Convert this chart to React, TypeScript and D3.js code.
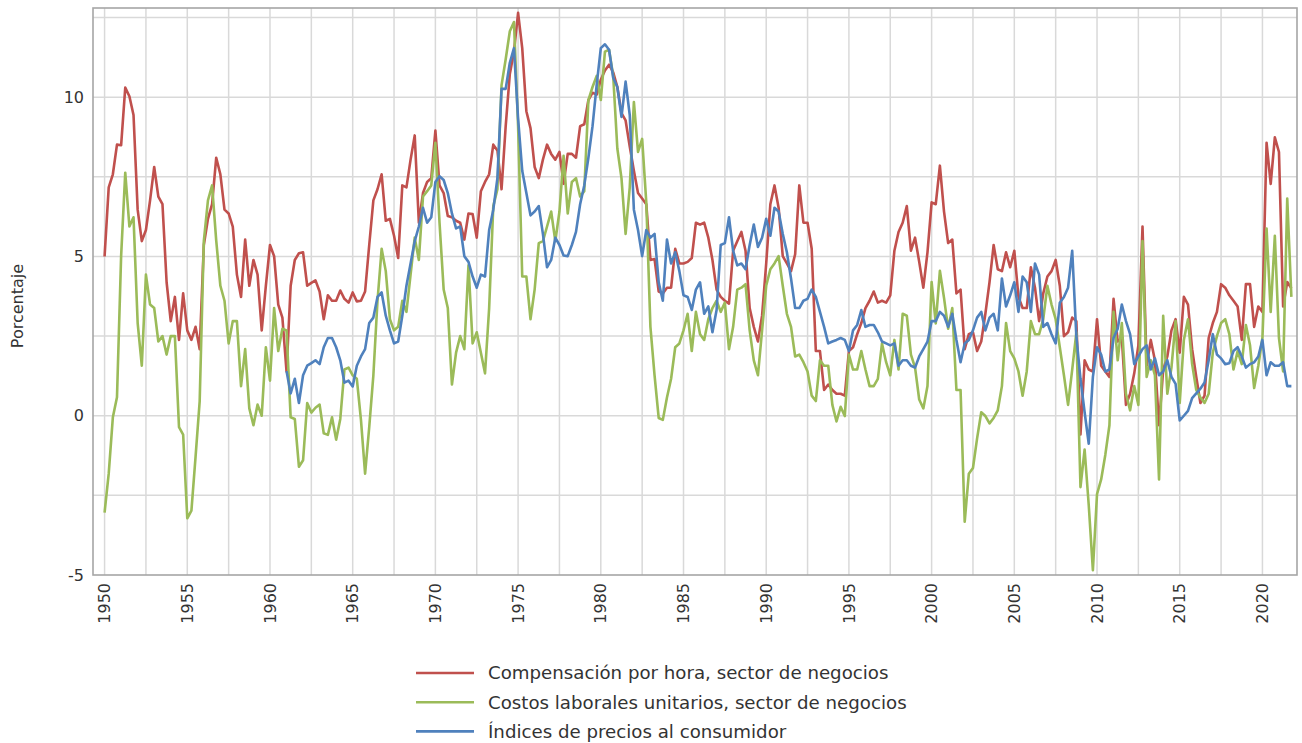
import React from "react";
import * as d3 from "d3";

// Quarterly data, first value = Q1 of the start year
const START_YEAR = 1950;
const CPI_START_YEAR = 1961;

const compensation = [
  5.0, 7.17, 7.58, 8.51, 8.49, 10.3, 10.03, 9.44, 6.47, 5.48, 5.83, 6.76, 7.81, 6.88, 6.64, 4.19,
  2.97, 3.73, 2.38, 3.84, 2.68, 2.38, 2.79, 2.09, 5.36, 6.18, 6.64, 8.1, 7.58, 6.47, 6.35, 5.94,
  4.43, 3.73, 5.53, 4.08, 4.89, 4.43, 2.68, 4.08, 5.36, 5.01, 3.49, 3.08, 1.39, 4.08, 4.89, 5.1,
  5.13, 4.08, 4.17, 4.25, 3.9, 3.03, 3.78, 3.61, 3.61, 3.93, 3.67, 3.55, 3.87, 3.59, 3.61, 3.9,
  5.36, 6.76, 7.11, 7.58, 6.12, 6.18, 5.65, 4.95, 7.23, 7.17, 8.04, 8.8, 6.06, 6.99, 7.34, 7.46,
  8.95, 7.23, 6.99, 6.27, 6.23, 6.12, 6.06, 5.53, 6.35, 6.33, 5.59, 7.05, 7.34, 7.58, 8.51, 8.33,
  7.11, 9.09, 10.73, 11.43, 12.65, 11.54, 9.56, 9.03, 7.81, 7.46, 8.04, 8.51, 8.22, 8.04, 8.28, 7.28,
  8.22, 8.22, 8.1, 9.09, 9.15, 9.91, 10.14, 10.08, 10.55, 10.84, 11.02, 10.78, 10.32, 9.5, 9.27, 8.45,
  7.69, 6.99, 6.82, 6.64, 4.89, 4.92, 3.9, 3.84, 4.02, 4.02, 5.24, 4.78, 4.78, 4.83, 4.95, 6.06,
  6.0, 6.06, 5.59, 4.89, 3.96, 3.73, 3.61, 3.52, 5.18, 5.48, 5.77, 5.18, 3.38, 2.79, 2.33, 3.14,
  4.78, 6.64, 7.23, 6.53, 5.01, 4.78, 4.54, 5.07, 7.23, 6.06, 6.06, 5.24, 2.03, 2.03, 0.81, 0.98,
  0.81, 0.69, 0.69, 0.63, 2.03, 2.15, 2.56, 2.91, 3.38, 3.61, 3.9, 3.55, 3.61, 3.55, 3.78, 5.18,
  5.77, 6.06, 6.58, 5.18, 5.59, 4.83, 4.02, 5.13, 6.7, 6.64, 7.85, 6.41, 5.42, 5.53, 3.84, 3.96,
  2.09, 2.56, 2.62, 2.03, 2.33, 3.2, 4.19, 5.36, 4.6, 4.54, 5.13, 4.66, 5.18, 3.73, 3.38, 3.38,
  4.66, 4.02, 2.97, 3.84, 4.37, 4.54, 4.89, 4.08, 2.5, 2.62, 3.08, 2.97, -0.59, 1.74, 1.45, 1.39,
  3.03, 1.57, 1.39, 1.22, 3.67, 2.33, 2.44, 0.34, 0.69, 1.33, 2.21, 5.94, 1.57, 2.38, 1.74, -0.3,
  1.45, 1.86, 2.68, 3.03, 1.98, 3.73, 3.49, 2.09, 1.22, 0.4, 0.63, 2.44, 2.91, 3.26, 4.13, 4.02,
  3.78, 3.61, 3.43, 2.38, 4.13, 4.13, 2.79, 3.43, 3.26, 8.57, 7.28, 8.74, 8.28, 3.43, 4.2, 4.0,
];

const unitLaborCosts = [
  -3.04, -1.82, -0.05, 0.58, 5.01, 7.63, 5.94, 6.23, 2.91, 1.57, 4.43, 3.49, 3.38, 2.33, 2.5, 1.92,
  2.5, 2.5, -0.36, -0.59, -3.22, -2.98, -1.29, 0.46, 5.48, 6.76, 7.23, 5.5, 4.08, 3.61, 2.27, 2.97,
  2.97, 0.93, 2.09, 0.23, -0.3, 0.35, 0.0, 2.15, 1.1, 3.38, 2.03, 2.73, 2.68, -0.05, -0.1, -1.6,
  -1.4, 0.4, 0.1, 0.25, 0.35, -0.55, -0.6, -0.05, -0.75, -0.1, 1.45, 1.51, 1.27, 1.16, -0.13, -1.82,
  -0.36, 1.27, 3.61, 5.24, 4.54, 3.03, 2.68, 2.79, 3.61, 3.26, 4.43, 5.59, 4.89, 6.88, 7.05, 7.23,
  8.57, 6.06, 3.96, 3.38, 0.98, 1.98, 2.5, 2.09, 4.72, 2.27, 2.62, 1.98, 1.33, 3.38, 6.58, 7.11,
  10.38, 11.19, 12.07, 12.36, 9.09, 4.37, 4.37, 3.03, 3.96, 5.42, 5.48, 5.94, 6.41, 5.48, 6.41, 8.16,
  6.35, 7.34, 7.46, 6.88, 7.05, 9.91, 10.32, 10.67, 9.91, 11.43, 11.49, 10.67, 8.39, 7.46, 5.71, 7.17,
  9.85, 8.28, 8.69, 6.7, 2.79, 1.27, -0.07, -0.13, 0.57, 1.16, 2.15, 2.27, 2.68, 3.2, 2.03, 3.26,
  2.56, 2.38, 3.03, 3.38, 3.61, 3.26, 3.55, 2.09, 2.79, 3.96, 4.02, 4.13, 2.68, 1.74, 1.27, 2.68,
  4.08, 4.6, 4.78, 5.01, 4.08, 3.2, 2.79, 1.86, 1.92, 1.68, 1.39, 0.63, 0.46, 1.74, 1.57, 1.57,
  0.34, -0.18, 0.28, -0.01, 1.92, 1.45, 1.45, 2.03, 1.45, 0.93, 0.93, 1.16, 2.27, 1.68, 1.27, 2.38,
  1.45, 3.2, 3.14, 1.92, 1.51, 0.51, 0.23, 0.93, 4.2, 2.9, 4.55, 3.7, 2.73, 3.38, 0.81, 0.81,
  -3.33, -1.82, -1.64, -0.71, 0.11, -0.01, -0.24, -0.07, 0.17, 0.93, 2.91, 2.03, 1.8, 1.39, 0.63, 1.39,
  2.97, 2.56, 2.56, 3.03, 4.08, 3.49, 3.03, 2.15, 1.27, 0.34, 1.45, 2.62, -2.24, -1.06, -2.81, -4.85,
  -2.46, -2.0, -1.23, -0.3, 3.26, 1.74, 2.91, 0.69, 0.17, 0.93, 0.34, 5.48, 1.22, 1.74, 1.27, -2.0,
  3.14, 0.69, 1.51, 2.97, 0.4, 2.38, 3.03, 1.62, 0.81, 0.57, 0.4, 0.69, 1.98, 2.5, 2.91, 3.03,
  2.56, 1.45, 2.03, 1.62, 2.85, 2.21, 0.87, 1.57, 2.44, 5.88, 3.26, 5.65, 2.44, 1.39, 6.82, 3.73,
];

const cpi = [
  1.4, 0.7, 1.16, 0.4, 1.27, 1.57, 1.65, 1.74, 1.62, 2.15, 2.44, 2.44, 2.15, 1.74, 1.04, 1.1,
  0.92, 1.57, 1.86, 2.09, 2.91, 3.08, 3.73, 3.87, 3.14, 2.68, 2.27, 2.33, 3.14, 4.08, 4.78, 5.48,
  5.94, 6.53, 6.06, 6.23, 7.34, 7.52, 7.4, 6.99, 6.35, 5.88, 5.94, 5.01, 4.83, 4.37, 4.02, 4.43,
  4.37, 5.83, 6.47, 7.46, 10.26, 10.26, 11.08, 11.54, 9.33, 7.69, 6.99, 6.29, 6.41, 6.58, 5.71, 4.66,
  4.89, 5.59, 5.36, 5.03, 5.01, 5.36, 5.77, 6.64, 7.23, 8.1, 9.09, 10.38, 11.54, 11.66, 11.49, 10.61,
  10.32, 9.38, 10.49, 9.44, 6.47, 5.83, 5.01, 5.83, 5.59, 5.71, 4.19, 3.61, 5.53, 4.78, 5.13, 4.54,
  3.78, 3.73, 3.32, 3.96, 4.19, 3.2, 3.43, 2.62, 3.32, 5.36, 5.42, 6.23, 5.18, 4.72, 4.78, 4.6,
  5.36, 6.0, 5.3, 5.59, 6.18, 5.65, 6.53, 6.41, 5.71, 5.13, 4.31, 3.38, 3.38, 3.61, 3.67, 3.96,
  3.73, 3.26, 2.79, 2.27, 2.33, 2.38, 2.44, 2.38, 2.03, 2.68, 2.85, 3.32, 2.79, 2.85, 2.85, 2.62,
  2.33, 2.27, 2.21, 2.27, 1.57, 1.74, 1.74, 1.57, 1.51, 1.86, 2.09, 2.33, 2.97, 2.97, 3.26, 3.14,
  2.79, 3.2, 2.38, 1.68, 2.27, 2.38, 2.68, 3.08, 3.26, 2.68, 3.08, 3.2, 2.68, 4.31, 3.43, 3.78,
  4.19, 3.26, 4.37, 4.19, 3.26, 4.78, 4.43, 2.79, 2.91, 2.56, 2.27, 3.55, 3.73, 4.02, 5.18, 2.5,
  1.16, 0.11, -0.88, 1.22, 2.15, 1.92, 1.39, 1.45, 2.44, 2.73, 3.49, 2.97, 2.56, 1.62, 1.86, 2.09,
  2.21, 1.45, 1.8, 1.27, 1.39, 1.74, 1.22, 1.0, -0.15, 0.0, 0.15, 0.55, 0.7, 0.85, 1.04, 1.74,
  2.56, 1.92, 1.8, 1.62, 1.65, 2.03, 2.15, 1.86, 1.51, 1.62, 1.68, 1.86, 2.38, 1.27, 1.68, 1.57,
  1.57, 1.68, 0.93, 0.93,
];

const seriesNames = [
  "Compensación por hora, sector de negocios",
  "Costos laborales unitarios, sector de negocios",
  "Índices de precios al consumidor",
];
const seriesColors = ["#c0504d", "#9bbb59", "#4f81bd"];

const yLabelTicks = [-5, 0, 5, 10];
const yGridTicks = [-2.5, 0, 2.5, 5, 7.5, 10, 12.5];
const xLabelYears = [1950, 1955, 1960, 1965, 1970, 1975, 1980, 1985, 1990, 1995, 2000, 2005, 2010, 2015, 2020];
const xGridYears = d3.range(1950, 2021, 2.5);
const yAxisTitle = "Porcentaje";

const FONT = "'DejaVu Sans', Verdana, sans-serif";

type Pt = { t: number; v: number };

function toPoints(values: number[], start: number): Pt[] {
  return values.map((v, i) => ({ t: start + i / 4, v }));
}

export default function App() {
  const W = 1302;
  const H = 743;
  const plot = { left: 93, right: 1297, top: 8, bottom: 575 };

  const x = d3.scaleLinear().domain([1949.3, 2022.09]).range([plot.left, plot.right]);
  const y = d3.scaleLinear().domain([-5, 12.8]).range([plot.bottom, plot.top]);

  const line = d3
    .line<Pt>()
    .x((d) => x(d.t))
    .y((d) => y(d.v));

  const series = [
    toPoints(compensation, START_YEAR),
    toPoints(unitLaborCosts, START_YEAR),
    toPoints(cpi, CPI_START_YEAR),
  ];
  const drawOrder = [0, 1, 2];

  const legendX = 416;
  const legendY0 = 673;
  const legendDy = 29.2;

  return (
    <svg
      width={W}
      height={H}
      style={{ position: "absolute", left: 0, top: 0, background: "#fff" }}
      fontFamily={FONT}
    >
      {/* grid */}
      <g stroke="#d9d9d9" strokeWidth={1.5}>
        {yGridTicks.map((t) => (
          <line key={"hy" + t} x1={plot.left} x2={plot.right} y1={y(t)} y2={y(t)} />
        ))}
        {xGridYears.map((t) => (
          <line key={"vx" + t} x1={x(t)} x2={x(t)} y1={plot.top} y2={plot.bottom} />
        ))}
      </g>

      {/* series */}
      <g fill="none" strokeWidth={2.6} strokeLinejoin="round" strokeLinecap="butt">
        {drawOrder.map((k) => (
          <path key={k} d={line(series[k]) || ""} stroke={seriesColors[k]} />
        ))}
      </g>

      {/* frame */}
      <rect
        x={plot.left}
        y={plot.top}
        width={plot.right - plot.left}
        height={plot.bottom - plot.top}
        fill="none"
        stroke="#a6a6a6"
        strokeWidth={1.6}
      />

      {/* y labels */}
      <g fontSize={16} fill="#333" textAnchor="end">
        {yLabelTicks.map((t) => (
          <text key={t} x={84} y={y(t)} dy="0.35em">
            {t}
          </text>
        ))}
      </g>
      <text
        transform={`translate(23,306) rotate(-90)`}
        textAnchor="middle"
        fontSize={16}
        fill="#333"
      >
        {yAxisTitle}
      </text>

      {/* x labels */}
      <g fontSize={16} fill="#333" textAnchor="end">
        {xLabelYears.map((t) => (
          <text key={t} transform={`translate(${x(t)},${plot.bottom + 8}) rotate(-90)`} dy="0.35em">
            {t}
          </text>
        ))}
      </g>

      {/* legend */}
      <g>
        {seriesNames.map((name, i) => (
          <g key={name} transform={`translate(${legendX},${legendY0 + i * legendDy})`}>
            <line x1={0} x2={58} y1={0} y2={0} stroke={seriesColors[i]} strokeWidth={2.6} />
            <text x={72} y={0} dy="0.35em" fontSize={18.2} fill="#333">
              {name}
            </text>
          </g>
        ))}
      </g>
    </svg>
  );
}
